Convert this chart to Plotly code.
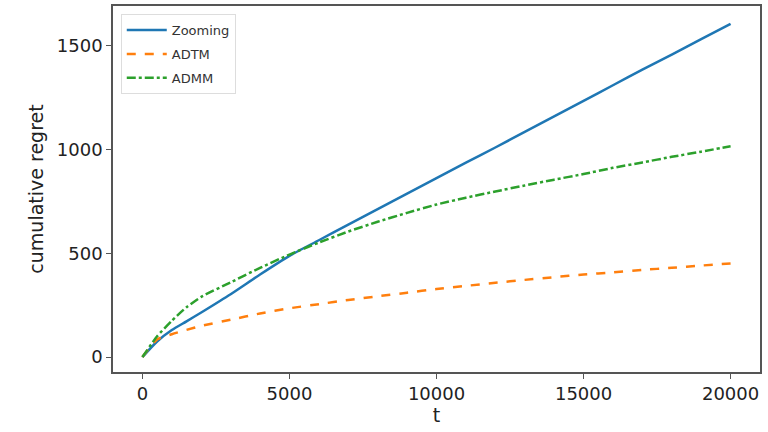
import plotly.graph_objects as go

t = [0, 500, 1000, 1500, 2000, 3000, 4000, 5000, 6000, 7000, 8000, 9000, 10000,
     11000, 12000, 13000, 14000, 15000, 16000, 17000, 18000, 19000, 20000]
zooming = [0, 75, 130, 172, 215, 303, 398, 488, 563, 638, 713, 788, 862,
           937, 1010, 1085, 1160, 1235, 1310, 1385, 1458, 1532, 1606]
adtm = [0, 85, 110, 131, 150, 180, 210, 235, 255, 275, 293, 310, 328,
        343, 358, 372, 385, 398, 408, 420, 430, 441, 451]
admm = [0, 100, 175, 240, 290, 360, 430, 494, 552, 605, 652, 695, 735,
        768, 798, 827, 855, 882, 912, 938, 965, 990, 1016]

x_ticks = [0, 5000, 10000, 15000, 20000]
y_ticks = [0, 500, 1000, 1500]

fig = go.Figure()
fig.add_trace(go.Scatter(x=t, y=zooming, mode="lines", name="Zooming", line_shape="spline",
                         legendgroup="g1",
                         line=dict(color="#1f77b4", width=2.5, dash="solid", smoothing=0.6)))
fig.add_trace(go.Scatter(x=t, y=adtm, mode="lines", name="ADTM", line_shape="spline",
                         legendgroup="g2",
                         line=dict(color="#ff7f0e", width=2.5, dash="dash", smoothing=0.6)))
fig.add_trace(go.Scatter(x=t, y=admm, mode="lines", name="ADMM", line_shape="spline",
                         legendgroup="g3",
                         line=dict(color="#2ca02c", width=2.5, dash="dashdot", smoothing=0.6)))

axis_common = dict(showline=True, linecolor="#555555", linewidth=1.5, mirror=True,
                   ticks="outside", ticklen=5, tickwidth=1.2, tickcolor="#555555",
                   showgrid=False, zeroline=False,
                   tickfont=dict(size=18, color="#222222"))

fig.update_xaxes(range=[-1000, 21000], tickvals=x_ticks,
                 ticktext=[str(v) for v in x_ticks],
                 title=dict(text="t", font=dict(size=19, color="#222222"), standoff=2),
                 **axis_common)
fig.update_yaxes(range=[-72, 1692], tickvals=y_ticks,
                 ticktext=[str(v) for v in y_ticks],
                 title=dict(text="cumulative regret", font=dict(size=19, color="#222222"), standoff=8),
                 **axis_common)

fig.update_layout(
    width=768, height=432,
    margin=dict(l=113, r=8, t=4, b=60),
    paper_bgcolor="white", plot_bgcolor="white",
    font=dict(family="DejaVu Sans", color="#222222"),
    legend=dict(x=0.012, y=0.978, xanchor="left", yanchor="top",
                bgcolor="rgba(255,255,255,0.9)", bordercolor="#dddddd", borderwidth=1,
                font=dict(size=13, color="#333333"), itemwidth=40,
                tracegroupgap=4),
    showlegend=True,
)

fig.write_html("out.html")
